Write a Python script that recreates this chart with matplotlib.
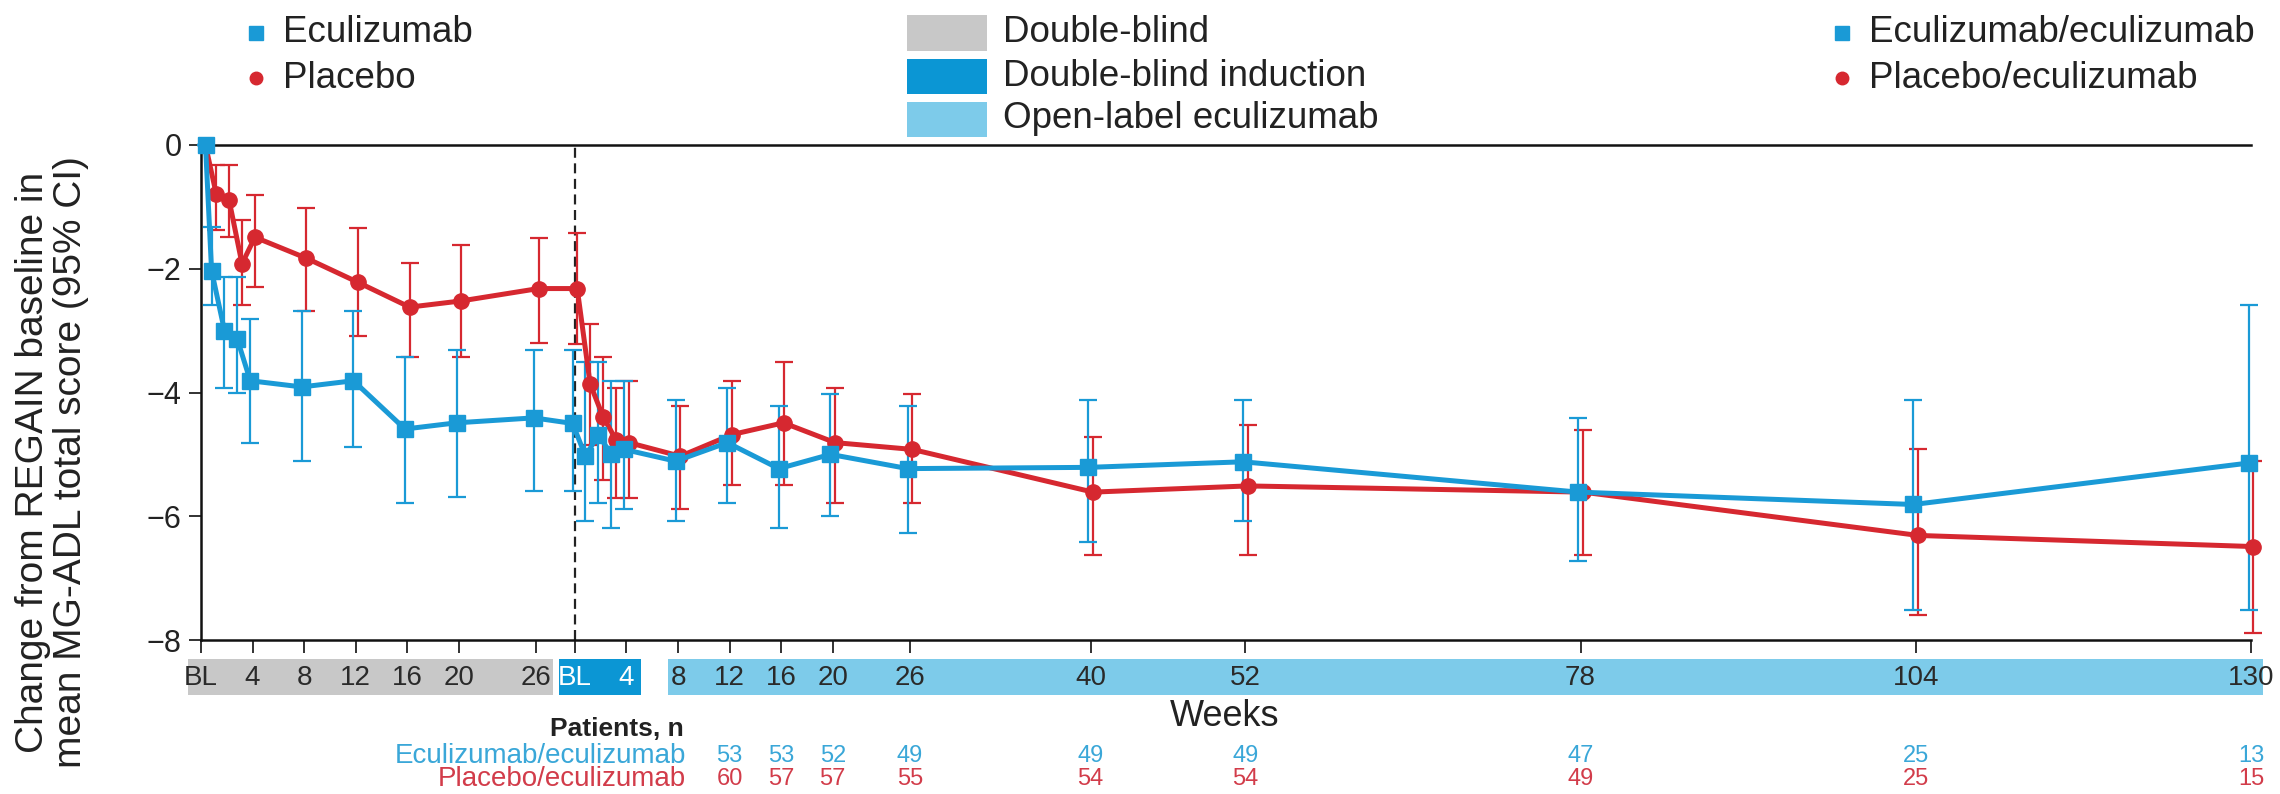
import matplotlib
matplotlib.use("Agg")
import matplotlib.pyplot as plt
import numpy as np
from matplotlib.transforms import blended_transform_factory
from matplotlib.lines import Line2D
from matplotlib.patches import Rectangle

plt.rcParams['font.family'] = ['Liberation Sans', 'DejaVu Sans']

# ---------------- data ----------------
db_weeks = [0, 1, 2, 3, 4, 8, 12, 16, 20, 26]
ole_weeks = [0, 1, 2, 3, 4, 8, 12, 16, 20, 26, 40, 52, 78, 104, 130]

ecu_db_mean = [0, -2.03, -3.00, -3.14, -3.81, -3.91, -3.81, -4.59, -4.49, -4.41]
ecu_db_hi = [0, -1.32, -2.14, -2.14, -2.81, -2.69, -2.69, -3.42, -3.32, -3.32]
ecu_db_lo = [0, -2.58, -3.92, -4.00, -4.81, -5.10, -4.88, -5.78, -5.69, -5.59]
ecu_ole_mean = [-4.50, -5.03, -4.68, -5.00, -4.92, -5.11, -4.81, -5.23, -5.00, -5.23,
                -5.21, -5.12, -5.61, -5.81, -5.14]
ecu_ole_hi = [-3.32, -3.51, -3.51, -3.81, -3.81, -4.12, -3.92, -4.22, -4.02, -4.22,
              -4.12, -4.12, -4.41, -4.12, -2.59]
ecu_ole_lo = [-5.59, -6.08, -5.78, -6.19, -5.89, -6.08, -5.78, -6.19, -6.00, -6.27,
              -6.42, -6.08, -6.72, -7.51, -7.51]

pbo_db_mean = [0, -0.79, -0.89, -1.92, -1.49, -1.83, -2.22, -2.62, -2.52, -2.32]
pbo_db_hi = [0, -0.32, -0.32, -1.22, -0.81, -1.02, -1.34, -1.90, -1.62, -1.50]
pbo_db_lo = [0, -1.38, -1.49, -2.59, -2.29, -2.69, -3.08, -3.42, -3.42, -3.20]
pbo_ole_mean = [-2.32, -3.86, -4.39, -4.76, -4.81, -5.03, -4.68, -4.49, -4.81, -4.92,
                -5.61, -5.51, -5.61, -6.31, -6.49]
pbo_ole_hi = [-1.42, -2.89, -3.43, -3.92, -3.81, -4.22, -3.81, -3.51, -3.92, -4.03,
              -4.72, -4.52, -4.61, -4.92, -5.10]
pbo_ole_lo = [-3.22, -4.85, -5.41, -5.70, -5.70, -5.89, -5.49, -5.49, -5.78, -5.78,
              -6.62, -6.62, -6.62, -7.59, -7.89]

db_tick_weeks = [0, 4, 8, 12, 16, 20, 26]
db_tick_labels = ["BL", "4", "8", "12", "16", "20", "26"]
ole_tick_weeks = [0, 4, 8, 12, 16, 20, 26, 40, 52, 78, 104, 130]
ole_tick_labels = ["BL", "4", "8", "12", "16", "20", "26", "40", "52", "78", "104", "130"]

n_weeks = [12, 16, 20, 26, 40, 52, 78, 104, 130]
n_ecu = [53, 53, 52, 49, 49, 49, 47, 25, 13]
n_pbo = [60, 57, 57, 55, 54, 54, 49, 25, 15]

y_ticks = [0, -2, -4, -6, -8]

# ---------------- style ----------------
BLUE = "#1a9ad6"
RED = "#d62830"
BLUE_TXT = "#3aa7d8"
RED_TXT = "#d23c4a"
GRAY_BAND = "#c8c8c8"
DARK_BAND = "#0b96d4"
LIGHT_BAND = "#7dcbea"
OLE_OFFSET = 29.0  # axis gap between the two study periods (x-axis layout)

W, H, DPI = 2280, 794, 100
fig = plt.figure(figsize=(W / DPI, H / DPI), dpi=DPI)
L, R, T, B = 201, 2251, 145, 640
ax = fig.add_axes([L / W, 1 - B / H, (R - L) / W, (B - T) / H])


def fx(px):
    return px / W


def fy(py):
    return 1 - py / H


ax.set_xlim(0, OLE_OFFSET + 130)
ax.set_ylim(-8, 0)

x_ecu = np.concatenate([np.array(db_weeks, float), OLE_OFFSET + np.array(ole_weeks, float)])
x_pbo = x_ecu.copy()
dodge = 0.18
x_ecu[1:] -= dodge
x_pbo[1:] += dodge
x_ecu[0] += 0.35
x_pbo[0] += 0.35

series = [
    (x_pbo, pbo_db_mean + pbo_ole_mean, pbo_db_hi + pbo_ole_hi, pbo_db_lo + pbo_ole_lo, RED, "o", 11),
    (x_ecu, ecu_db_mean + ecu_ole_mean, ecu_db_hi + ecu_ole_hi, ecu_db_lo + ecu_ole_lo, BLUE, "s", 11),
]

ax.axvline(OLE_OFFSET, color="#222222", lw=1.6, ls=(0, (4.5, 2.5)), zorder=1)

for xs, m, hi, lo, col, mk, ms in series:
    m = np.array(m); hi = np.array(hi); lo = np.array(lo)
    eb = ax.errorbar(xs, m, yerr=[m - lo, hi - m], fmt="none", ecolor=col,
                     elinewidth=1.6, capsize=6.5, capthick=1.6, zorder=2)
    for a in list(eb.lines[1]) + list(eb.lines[2]):
        a.set_clip_on(False)
    ax.plot(xs, m, color=col, lw=3.6, marker=mk, ms=ms, zorder=3, clip_on=False)

ax.spines["right"].set_visible(False)
for sp in ["left", "bottom", "top"]:
    ax.spines[sp].set_linewidth(1.8)
    ax.spines[sp].set_color("#111111")

ax.set_yticks(y_ticks)
ax.set_yticklabels(["0", "\u22122", "\u22124", "\u22126", "\u22128"])
ax.tick_params(axis="y", direction="out", length=9, width=1.3, labelsize=22, pad=5,
               colors="#222222")

xt = list(db_tick_weeks) + [OLE_OFFSET + w for w in ole_tick_weeks]
ax.set_xticks(xt)
ax.tick_params(axis="x", direction="out", length=9, width=1.3, labelbottom=False,
               colors="#222222")

# period bands below the axis
tb = blended_transform_factory(ax.transData, fig.transFigure)
band_top, band_bot = 659, 695
bands = [(-1.0, 27.3, GRAY_BAND), (27.8, 34.1, DARK_BAND), (36.2, 159.9, LIGHT_BAND)]
for x0, x1, c in bands:
    fig.add_artist(Rectangle((x0, fy(band_bot)), x1 - x0, fy(band_top) - fy(band_bot),
                             transform=tb, color=c, lw=0, clip_on=False))

band_y = fy(678)
for w, lab in zip(db_tick_weeks, db_tick_labels):
    fig.text(w, band_y, lab, transform=tb, ha="center", va="center", fontsize=20,
             color="#2a2a2a")
for w, lab in zip(ole_tick_weeks, ole_tick_labels):
    col = "white" if w <= 4 else "#2a2a2a"
    fig.text(OLE_OFFSET + w, band_y, lab, transform=tb, ha="center", va="center",
             fontsize=20, color=col)

fig.text(fx(1225), fy(717), "Weeks", ha="center", va="center", fontsize=26, color="#222222")

# y label
fig.text(fx(52), fy(462), "Change from REGAIN baseline in\nmean MG-ADL total score (95% CI)",
         rotation=90, ha="center", va="center", fontsize=28, color="#222222",
         linespacing=1.05)

# patients table
fig.text(fx(684), fy(729), "Patients, n", ha="right", va="center", fontsize=19,
         fontweight="bold", color="#222222")
fig.text(fx(686), fy(756), "Eculizumab/eculizumab", ha="right", va="center", fontsize=20,
         color=BLUE_TXT)
fig.text(fx(686), fy(779), "Placebo/eculizumab", ha="right", va="center", fontsize=20,
         color=RED_TXT)
for w, a, b in zip(n_weeks, n_ecu, n_pbo):
    fig.text(OLE_OFFSET + w, fy(756), str(a), transform=tb, ha="center", va="center",
             fontsize=17, color=BLUE_TXT)
    fig.text(OLE_OFFSET + w, fy(779), str(b), transform=tb, ha="center", va="center",
             fontsize=17, color=RED_TXT)

# legends
def marker_item(xpx, ypx, mk, col, ms, label):
    fig.add_artist(Line2D([fx(xpx)], [fy(ypx)], transform=fig.transFigure, marker=mk,
                          color=col, ms=ms, lw=0))
    fig.text(fx(xpx + 27), fy(ypx), label, ha="left", va="center", fontsize=26.5,
             color="#222222")


marker_item(256, 33, "s", BLUE, 10, "Eculizumab")
marker_item(256, 78, "o", RED, 9, "Placebo")
marker_item(1842, 33, "s", BLUE, 10, "Eculizumab/eculizumab")
marker_item(1842, 78, "o", RED, 9, "Placebo/eculizumab")

patches = [("Double-blind", GRAY_BAND, 33), ("Double-blind induction", DARK_BAND, 76),
           ("Open-label eculizumab", LIGHT_BAND, 119)]
for lab, c, yc in patches:
    fig.add_artist(Rectangle((fx(907), fy(yc + 17.5)), fx(987) - fx(907),
                             fy(yc - 17.5) - fy(yc + 17.5), transform=fig.transFigure,
                             color=c, lw=0))
    fig.text(fx(1003), fy(yc), lab, ha="left", va="center", fontsize=26.5, color="#222222")

fig.savefig("out.png", dpi=DPI, facecolor="white")
